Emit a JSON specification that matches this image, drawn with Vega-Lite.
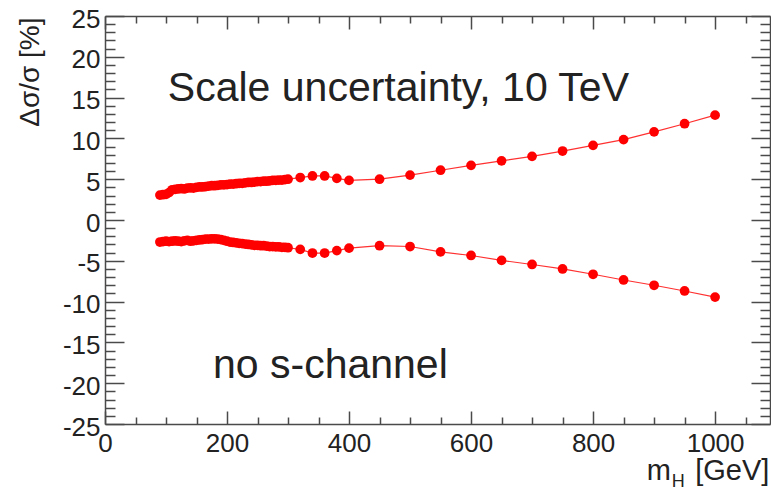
{
  "$schema": "https://vega.github.io/schema/vega-lite/v6.json",
  "width": 665,
  "height": 408,
  "autosize": {"type": "none"},
  "padding": {"left": 105, "top": 16, "right": 1, "bottom": 66},
  "background": "white",
  "config": {
    "view": {"stroke": null},
    "font": "Liberation Sans",
    "axis": {
      "domainColor": "#4a4a4a",
      "domainWidth": 1.5,
      "tickColor": "#4a4a4a",
      "tickWidth": 1.5,
      "grid": false,
      "labelColor": "#222222",
      "labelFont": "Liberation Sans",
      "labelFontSize": 26,
      "labelFlush": false,
      "labelOverlap": false,
      "title": null
    }
  },
  "datasets": {
    "xs": [
      {"m": 90, "band": "up", "d": 3.05}, {"m": 95, "band": "up", "d": 3.1}, {"m": 100, "band": "up", "d": 3.15},
      {"m": 105, "band": "up", "d": 3.35}, {"m": 110, "band": "up", "d": 3.7}, {"m": 115, "band": "up", "d": 3.75},
      {"m": 120, "band": "up", "d": 3.8}, {"m": 125, "band": "up", "d": 3.85}, {"m": 130, "band": "up", "d": 3.8},
      {"m": 135, "band": "up", "d": 3.9}, {"m": 140, "band": "up", "d": 3.95}, {"m": 145, "band": "up", "d": 3.9},
      {"m": 150, "band": "up", "d": 4.0}, {"m": 155, "band": "up", "d": 4.05}, {"m": 160, "band": "up", "d": 4.05},
      {"m": 165, "band": "up", "d": 4.1}, {"m": 170, "band": "up", "d": 4.15}, {"m": 175, "band": "up", "d": 4.2},
      {"m": 180, "band": "up", "d": 4.2}, {"m": 185, "band": "up", "d": 4.25}, {"m": 190, "band": "up", "d": 4.3},
      {"m": 195, "band": "up", "d": 4.3}, {"m": 200, "band": "up", "d": 4.35}, {"m": 205, "band": "up", "d": 4.4},
      {"m": 210, "band": "up", "d": 4.4}, {"m": 215, "band": "up", "d": 4.45}, {"m": 220, "band": "up", "d": 4.5},
      {"m": 225, "band": "up", "d": 4.5}, {"m": 230, "band": "up", "d": 4.55}, {"m": 235, "band": "up", "d": 4.6},
      {"m": 240, "band": "up", "d": 4.6}, {"m": 245, "band": "up", "d": 4.65}, {"m": 250, "band": "up", "d": 4.7},
      {"m": 255, "band": "up", "d": 4.7}, {"m": 260, "band": "up", "d": 4.75}, {"m": 265, "band": "up", "d": 4.75},
      {"m": 270, "band": "up", "d": 4.8}, {"m": 275, "band": "up", "d": 4.85}, {"m": 280, "band": "up", "d": 4.85},
      {"m": 285, "band": "up", "d": 4.9}, {"m": 290, "band": "up", "d": 4.9}, {"m": 295, "band": "up", "d": 4.95},
      {"m": 300, "band": "up", "d": 5.0}, {"m": 320, "band": "up", "d": 5.2}, {"m": 340, "band": "up", "d": 5.4},
      {"m": 360, "band": "up", "d": 5.4}, {"m": 380, "band": "up", "d": 5.1}, {"m": 400, "band": "up", "d": 4.85},
      {"m": 450, "band": "up", "d": 5.0}, {"m": 500, "band": "up", "d": 5.5}, {"m": 550, "band": "up", "d": 6.1},
      {"m": 600, "band": "up", "d": 6.7}, {"m": 650, "band": "up", "d": 7.25}, {"m": 700, "band": "up", "d": 7.8},
      {"m": 750, "band": "up", "d": 8.45}, {"m": 800, "band": "up", "d": 9.15}, {"m": 850, "band": "up", "d": 9.85},
      {"m": 900, "band": "up", "d": 10.8}, {"m": 950, "band": "up", "d": 11.8}, {"m": 1000, "band": "up", "d": 12.85},
      {"m": 90, "band": "down", "d": -2.7}, {"m": 95, "band": "down", "d": -2.65}, {"m": 100, "band": "down", "d": -2.6},
      {"m": 105, "band": "down", "d": -2.65}, {"m": 110, "band": "down", "d": -2.6}, {"m": 115, "band": "down", "d": -2.55},
      {"m": 120, "band": "down", "d": -2.6}, {"m": 125, "band": "down", "d": -2.65}, {"m": 130, "band": "down", "d": -2.55},
      {"m": 135, "band": "down", "d": -2.5}, {"m": 140, "band": "down", "d": -2.6}, {"m": 145, "band": "down", "d": -2.55},
      {"m": 150, "band": "down", "d": -2.5}, {"m": 155, "band": "down", "d": -2.45}, {"m": 160, "band": "down", "d": -2.4},
      {"m": 165, "band": "down", "d": -2.35}, {"m": 170, "band": "down", "d": -2.35}, {"m": 175, "band": "down", "d": -2.3},
      {"m": 180, "band": "down", "d": -2.3}, {"m": 185, "band": "down", "d": -2.35}, {"m": 190, "band": "down", "d": -2.4},
      {"m": 195, "band": "down", "d": -2.5}, {"m": 200, "band": "down", "d": -2.6}, {"m": 205, "band": "down", "d": -2.7},
      {"m": 210, "band": "down", "d": -2.75}, {"m": 215, "band": "down", "d": -2.8}, {"m": 220, "band": "down", "d": -2.85},
      {"m": 225, "band": "down", "d": -2.9}, {"m": 230, "band": "down", "d": -2.95}, {"m": 235, "band": "down", "d": -3.0},
      {"m": 240, "band": "down", "d": -3.05}, {"m": 245, "band": "down", "d": -3.1}, {"m": 250, "band": "down", "d": -3.1},
      {"m": 255, "band": "down", "d": -3.15}, {"m": 260, "band": "down", "d": -3.15}, {"m": 265, "band": "down", "d": -3.2},
      {"m": 270, "band": "down", "d": -3.25}, {"m": 275, "band": "down", "d": -3.25}, {"m": 280, "band": "down", "d": -3.3},
      {"m": 285, "band": "down", "d": -3.3}, {"m": 290, "band": "down", "d": -3.35}, {"m": 295, "band": "down", "d": -3.35},
      {"m": 300, "band": "down", "d": -3.4}, {"m": 320, "band": "down", "d": -3.6}, {"m": 340, "band": "down", "d": -4.05},
      {"m": 360, "band": "down", "d": -4.05}, {"m": 380, "band": "down", "d": -3.75}, {"m": 400, "band": "down", "d": -3.45},
      {"m": 450, "band": "down", "d": -3.15}, {"m": 500, "band": "down", "d": -3.25}, {"m": 550, "band": "down", "d": -3.9},
      {"m": 600, "band": "down", "d": -4.35}, {"m": 650, "band": "down", "d": -4.95}, {"m": 700, "band": "down", "d": -5.45},
      {"m": 750, "band": "down", "d": -6.0}, {"m": 800, "band": "down", "d": -6.65}, {"m": 850, "band": "down", "d": -7.35},
      {"m": 900, "band": "down", "d": -8.0}, {"m": 950, "band": "down", "d": -8.7}, {"m": 1000, "band": "down", "d": -9.45}
    ],
    "one": [{}]
  },
  "layer": [
    {
      "data": {"name": "xs"},
      "mark": {"type": "line", "color": "#ff3030", "strokeWidth": 1.2},
      "encoding": {
        "x": {
          "field": "m", "type": "quantitative",
          "scale": {"domain": [0, 1090], "nice": false, "zero": false},
          "axis": {
            "orient": "bottom",
            "values": [0, 50, 100, 150, 200, 250, 300, 350, 400, 450, 500, 550, 600, 650, 700, 750, 800, 850, 900, 950, 1000, 1050],
            "labelExpr": "datum.value % 200 === 0 ? toString(datum.value) : ''",
            "tickSize": {"condition": {"test": "datum.value % 200 === 0", "value": -13}, "value": -7},
            "labelPadding": 19,
            "labelBaseline": "top"
          }
        },
        "y": {
          "field": "d", "type": "quantitative",
          "scale": {"domain": [-25, 25], "nice": false, "zero": false},
          "axis": {
            "orient": "left",
            "values": [-25, -24, -23, -22, -21, -20, -19, -18, -17, -16, -15, -14, -13, -12, -11, -10, -9, -8, -7, -6, -5, -4, -3, -2, -1, 0, 1, 2, 3, 4, 5, 6, 7, 8, 9, 10, 11, 12, 13, 14, 15, 16, 17, 18, 19, 20, 21, 22, 23, 24, 25],
            "labelExpr": "datum.value % 5 === 0 ? toString(datum.value) : ''",
            "tickSize": {"condition": {"test": "datum.value % 5 === 0", "value": -19}, "value": -10},
            "labelPadding": 24,
            "labelOffset": 3,
            "title": "Δσ/σ [%]",
            "titleFont": "Liberation Sans",
            "titleFontSize": 28,
            "titleFontWeight": "normal",
            "titleColor": "#222222",
            "titleAngle": -90,
            "titleAlign": "right",
            "titleBaseline": "alphabetic",
            "titleX": -67,
            "titleY": 1
          }
        },
        "detail": {"field": "band"}
      }
    },
    {
      "data": {"name": "xs"},
      "mark": {"type": "circle", "color": "#ff0000", "opacity": 1, "size": 95},
      "encoding": {
        "x": {
          "field": "m", "type": "quantitative",
          "axis": {
            "orient": "top",
            "values": [0, 50, 100, 150, 200, 250, 300, 350, 400, 450, 500, 550, 600, 650, 700, 750, 800, 850, 900, 950, 1000, 1050],
            "labels": false,
            "tickSize": {"condition": {"test": "datum.value % 200 === 0", "value": -13}, "value": -7}
          }
        },
        "y": {
          "field": "d", "type": "quantitative",
          "axis": {
            "orient": "right",
            "values": [-25, -24, -23, -22, -21, -20, -19, -18, -17, -16, -15, -14, -13, -12, -11, -10, -9, -8, -7, -6, -5, -4, -3, -2, -1, 0, 1, 2, 3, 4, 5, 6, 7, 8, 9, 10, 11, 12, 13, 14, 15, 16, 17, 18, 19, 20, 21, 22, 23, 24, 25],
            "labels": false,
            "tickSize": {"condition": {"test": "datum.value % 5 === 0", "value": -19}, "value": -10}
          }
        }
      }
    },
    {
      "data": {"name": "one"},
      "mark": {"type": "text", "text": "Scale uncertainty, 10 TeV", "align": "left", "baseline": "alphabetic", "font": "Liberation Sans", "fontSize": 41, "color": "#222222"},
      "encoding": {
        "x": {"datum": 103, "type": "quantitative", "axis": null},
        "y": {"datum": 14.6, "type": "quantitative", "axis": null}
      }
    },
    {
      "data": {"name": "one"},
      "mark": {"type": "text", "text": "no s-channel", "align": "left", "baseline": "alphabetic", "font": "Liberation Sans", "fontSize": 41, "color": "#222222"},
      "encoding": {
        "x": {"datum": 177, "type": "quantitative", "axis": null},
        "y": {"datum": -19.4, "type": "quantitative", "axis": null}
      }
    },
    {
      "data": {"name": "one"},
      "mark": {"type": "text", "text": "m", "align": "left", "baseline": "alphabetic", "font": "Liberation Sans", "fontSize": 29, "color": "#222222", "dy": 56},
      "encoding": {
        "x": {"datum": 888, "type": "quantitative", "axis": null},
        "y": {"datum": -25, "type": "quantitative", "axis": null}
      }
    },
    {
      "data": {"name": "one"},
      "mark": {"type": "text", "text": "H", "align": "left", "baseline": "alphabetic", "font": "Liberation Sans", "fontSize": 18, "color": "#222222", "dy": 63},
      "encoding": {
        "x": {"datum": 929, "type": "quantitative", "axis": null},
        "y": {"datum": -25, "type": "quantitative", "axis": null}
      }
    },
    {
      "data": {"name": "one"},
      "mark": {"type": "text", "text": "[GeV]", "align": "right", "baseline": "alphabetic", "font": "Liberation Sans", "fontSize": 29, "color": "#222222", "dy": 56},
      "encoding": {
        "x": {"datum": 1089, "type": "quantitative", "axis": null},
        "y": {"datum": -25, "type": "quantitative", "axis": null}
      }
    }
  ],
  "resolve": {"axis": {"x": "independent", "y": "independent"}}
}
